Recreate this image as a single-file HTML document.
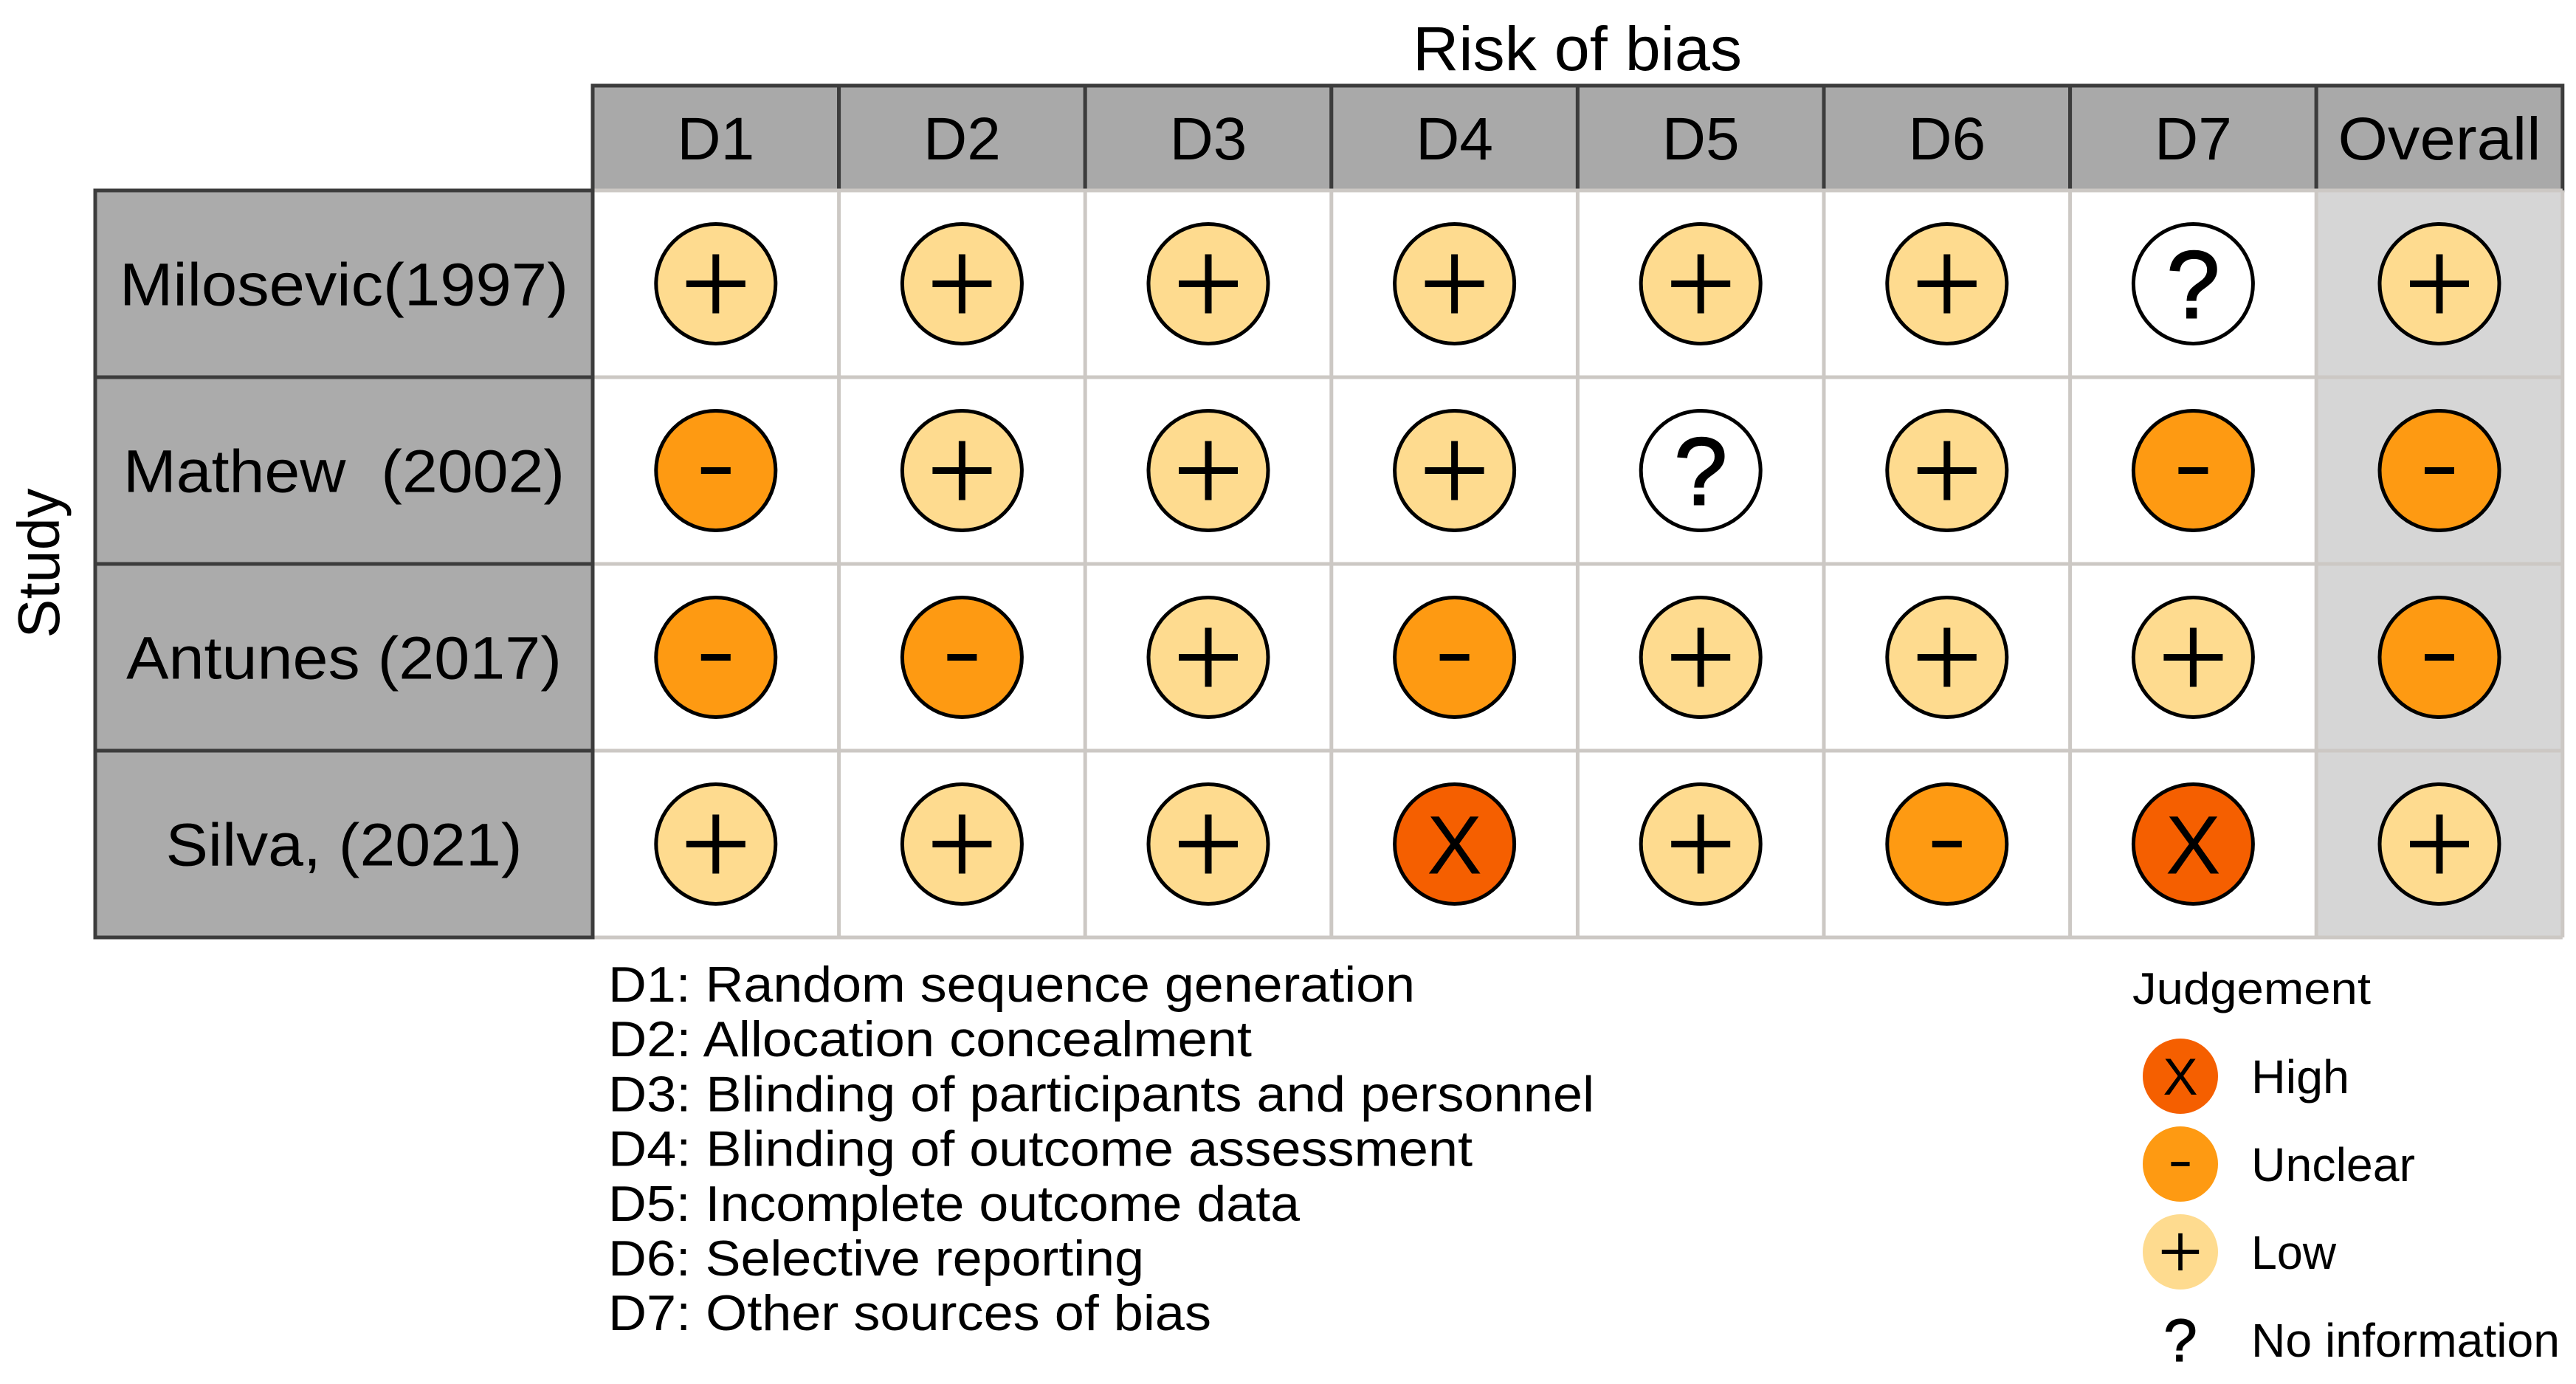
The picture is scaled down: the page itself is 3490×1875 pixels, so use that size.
<!DOCTYPE html>
<html><head><meta charset="utf-8"><style>
html,body{margin:0;padding:0;background:#fff}
svg{display:block;font-family:"Liberation Sans",Arial,sans-serif}
</style></head><body>
<svg id="chart" width="3490" height="1875" viewBox="0 0 3490 1875" xmlns="http://www.w3.org/2000/svg">
<rect width="3490" height="1875" fill="#fff"/>
<text x="2137" y="95" font-size="84" text-anchor="middle" textLength="446" lengthAdjust="spacingAndGlyphs">Risk of bias</text>
<text transform="translate(80,763) rotate(-90)" font-size="80" text-anchor="middle" textLength="203" lengthAdjust="spacingAndGlyphs">Study</text>
<g id="grid"></g>
<g id="legend"></g>
</svg>
<script>
const domains = ["D1","D2","D3","D4","D5","D6","D7","Overall"];
const studies = ["Milosevic(1997)","Mathew  (2002)","Antunes (2017)","Silva, (2021)"];
const judgements = [
  ["+","+","+","+","+","+","?","+"],
  ["-","+","+","+","?","+","-","-"],
  ["-","-","+","-","+","+","+","-"],
  ["+","+","+","X","+","-","X","+"]
];
const domainNotes = ["D1: Random sequence generation","D2: Allocation concealment","D3: Blinding of participants and personnel","D4: Blinding of outcome assessment","D5: Incomplete outcome data","D6: Selective reporting","D7: Other sources of bias"];
const legendKeys = ["X","-","+","?"];
const legendLabels = ["High","Unclear","Low","No information"];

const NS="http://www.w3.org/2000/svg";
const colors={"+":"#fedb8f","-":"#fe9a12","X":"#f55f00","?":"#ffffff"};
const x0=803,colW=333.6,y0=258,rowH=253,hdrTop=116;
const xC=i=>x0+colW*i+colW/2;
const yC=j=>y0+rowH*j+rowH/2;
const noteW=[1093,872,1336,1171,937,726,817];
const labW=[608,598,590,483];
const legW=[133,222,115,418];
function el(t,a,p){const e=document.createElementNS(NS,t);for(const k in a)e.setAttribute(k,a[k]);p.appendChild(e);return e;}
const g=document.getElementById('grid');
domains.forEach((d,i)=>{
  const r=el('rect',{x:x0+colW*i,y:hdrTop,width:colW,height:y0-hdrTop,fill:'#a9a9a9',stroke:'#3c3c3c','stroke-width':5},g);
  
  
  const a={x:xC(i),y:216,'font-size':82,'text-anchor':'middle'};
  if(d==='Overall'){a.textLength=275;a.lengthAdjust='spacingAndGlyphs';}
  const t=el('text',a,g);
  
  
  t.textContent=d;
});
const ob=el('rect',{x:x0+colW*7,y:y0,width:colW,height:rowH*4,fill:'#d6d6d6'},g);


for(let i=0;i<=8;i++){const l=el('line',{x1:x0+colW*i,x2:x0+colW*i,y1:y0,y2:y0+rowH*4,stroke:'#ccc8c4','stroke-width':5},g);
  
  }
for(let j=0;j<=4;j++){const l=el('line',{x1:x0,x2:x0+colW*8,y1:y0+rowH*j,y2:y0+rowH*j,stroke:'#ccc8c4','stroke-width':5},g);
  
  }
function symbol(parent,k,cx,cy,r,stroke){
  const c=el('circle',{cx:cx,cy:cy,r:r,fill:colors[k],stroke:stroke?'#000':'none','stroke-width':5},parent);
  
  
  if(!stroke&&k==='?')c.setAttribute('fill','none');
  const s=r/81;
  if(k==='+'){
    el('line',{x1:cx-40*s,x2:cx+40*s,y1:cy,y2:cy,stroke:'#000','stroke-width':9*s},parent);
    el('line',{x1:cx,x2:cx,y1:cy-40*s,y2:cy+40*s,stroke:'#000','stroke-width':9*s},parent);
  }else if(k==='-'){
    el('line',{x1:cx-20*s,x2:cx+20*s,y1:cy,y2:cy,stroke:'#000','stroke-width':9*s},parent);
  }else{
    const t=el('text',{x:cx,y:cy+(k==='X'?40:46)*s,'font-size':(k==='X'?112:130)*s,'text-anchor':'middle','stroke':'#000','stroke-width':(k==='?'?2*s:0)},parent);
    
    
    t.textContent=k;
  }
}
studies.forEach((st,j)=>{
  const r=el('rect',{x:129,y:y0+rowH*j,width:x0-129,height:rowH,fill:'#ababab',stroke:'#3c3c3c','stroke-width':5},g);
  
  
  const t=el('text',{x:(129+x0)/2,y:yC(j)+29,'font-size':82,'text-anchor':'middle',textLength:labW[j],lengthAdjust:'spacingAndGlyphs'},g);
  
  
  t.setAttributeNS('http://www.w3.org/XML/1998/namespace','xml:space','preserve');
  t.textContent=st;
  judgements[j].forEach((k,i)=>{
    const cg=el('g',{},g);
    
    
    symbol(cg,k,xC(i),yC(j),81,true);
  });
});
const lg=document.getElementById('legend');
domainNotes.forEach((n,i)=>{
  const t=el('text',{x:824,y:1357+74.2*i,'font-size':68,textLength:noteW[i],lengthAdjust:'spacingAndGlyphs'},lg);
  
  
  t.textContent=n;
});
const jt=el('text',{x:2889,y:1360,'font-size':60,textLength:323,lengthAdjust:'spacingAndGlyphs'},lg);


jt.textContent='Judgement';
legendKeys.forEach((k,i)=>{
  const cy=1458+119*i;
  const eg=el('g',{},lg);
  
  
  symbol(eg,k,2954,cy,51,false);
  const t=el('text',{x:3050,y:cy+23,'font-size':64,textLength:legW[i],lengthAdjust:'spacingAndGlyphs'},eg);
  
  
  t.textContent=legendLabels[i];
});
</script>
</body></html>
